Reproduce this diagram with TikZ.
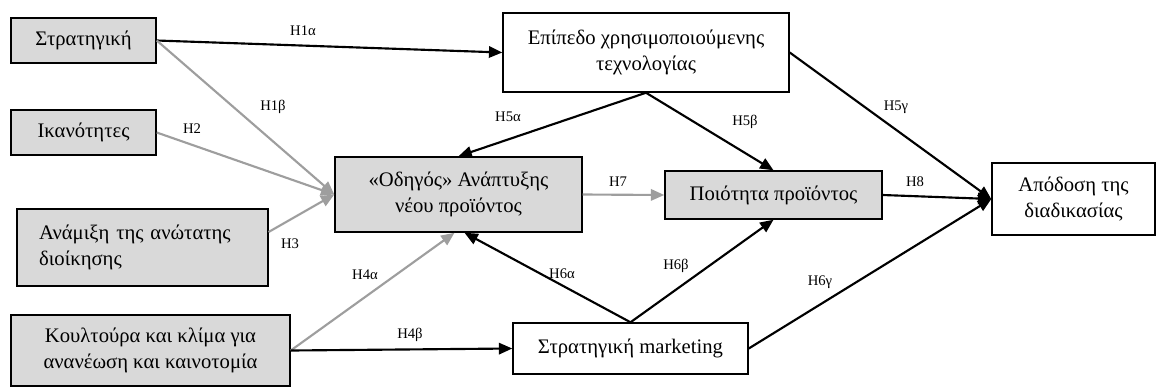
\documentclass[tikz,border=0pt]{standalone}
\usepackage{fontspec}
\setmainfont{Liberation Serif}
\usepackage{tikz}
\usetikzlibrary{arrows.meta, calc}
\definecolor{boxgray}{RGB}{217,217,217}
\definecolor{linegray}{RGB}{158,158,158}
\tikzset{
  graybox/.style={rectangle, draw=black, fill=boxgray, line width=1.1pt,
    align=center, inner sep=2pt, font=\fontsize{15.5}{20}\selectfont},
  whitebox/.style={graybox, fill=white},
  arrow/.style={-{Triangle[length=10pt,width=8.5pt]}, line width=1.6pt, color=black},
  grayarrow/.style={arrow, color=linegray},
  hlabel/.style={font=\fontsize{11}{13}\selectfont, inner sep=1pt}
}
\begin{document}
\begin{tikzpicture}[x=0.75pt, y=-0.75pt]
  \useasboundingbox (0,0) rectangle (1157,387);

  \node [graybox, minimum width=108.75pt, minimum height=33.75pt] (strat) at (83.5,40.5) {Στρατηγική};
  \node [graybox, minimum width=108.75pt, minimum height=33.75pt] (ikan) at (83.5,132.5) {Ικανότητες};
  \node [graybox, text width=155pt, inner xsep=16.5pt, minimum height=57.75pt, align=left] (anam) at (142.5,247.5) {Ανάμιξη της ανώτατης\\διοίκησης};
  \node [graybox, minimum width=209.25pt, minimum height=53.25pt] (koult) at (150.5,350.5) {Κουλτούρα και κλίμα για\\ανανέωση και καινοτομία};
  \node [graybox, minimum width=185.25pt, minimum height=56.25pt] (odig) at (458.5,194.5) {«Οδηγός» Ανάπτυξης\\νέου προϊόντος};
  \node [whitebox, minimum width=214.5pt, minimum height=59.25pt] (epip) at (646,52.5) {Επίπεδο χρησιμοποιούμενης\\τεχνολογίας};
  \node [graybox, minimum width=162.75pt, minimum height=36pt] (poiot) at (773.5,195) {Ποιότητα προϊόντος};
  \node [whitebox, minimum width=176.25pt, minimum height=38.25pt] (mkt) at (630.5,348.5) {Στρατηγική marketing};
  \node [whitebox, minimum width=122.25pt, minimum height=54pt] (apod) at (1073.5,199) {Απόδοση της\\διαδικασίας};

  \draw [arrow] (strat.east) -- (epip.west);
  \draw [grayarrow] (strat.east) -- (odig.west);
  \draw [grayarrow] (ikan.east) -- (odig.west);
  \draw [grayarrow] (anam.7) -- (odig.west);
  \draw [grayarrow] (koult.east) -- ($(odig.south)+(-4,0)$);
  \draw [arrow] (koult.east) -- (mkt.west);
  \draw [arrow] (epip.south) -- (odig.north);
  \draw [arrow] (epip.south) -- (poiot.north);
  \draw [arrow] (epip.east) -- (apod.west);
  \draw [grayarrow] (odig.east) -- (poiot.west);
  \draw [arrow] (poiot.east) -- (apod.west);
  \draw [arrow] (mkt.north) -- ($(odig.south)+(6,0)$);
  \draw [arrow] (mkt.north) -- (poiot.south);
  \draw [arrow] (mkt.east) -- (apod.west);

  \node [hlabel] (lh1a) at (303,31) {H1α};
  \node [hlabel] (lh1b) at (273,107) {H1β};
  \node [hlabel] (lh2) at (192,129) {H2};
  \node [hlabel] (lh3) at (290,244) {H3};
  \node [hlabel] (lh4a) at (365,275) {H4α};
  \node [hlabel] (lh4b) at (410,335) {H4β};
  \node [hlabel] (lh5a) at (508,117) {H5α};
  \node [hlabel] (lh5b) at (745,122) {H5β};
  \node [hlabel] (lh5c) at (896,107) {H5γ};
  \node [hlabel] (lh6a) at (562,274) {H6α};
  \node [hlabel] (lh6b) at (676,266) {H6β};
  \node [hlabel] (lh6c) at (820,282) {H6γ};
  \node [hlabel] (lh7) at (618,182) {H7};
  \node [hlabel] (lh8) at (915,182) {H8};
\end{tikzpicture}
\end{document}
